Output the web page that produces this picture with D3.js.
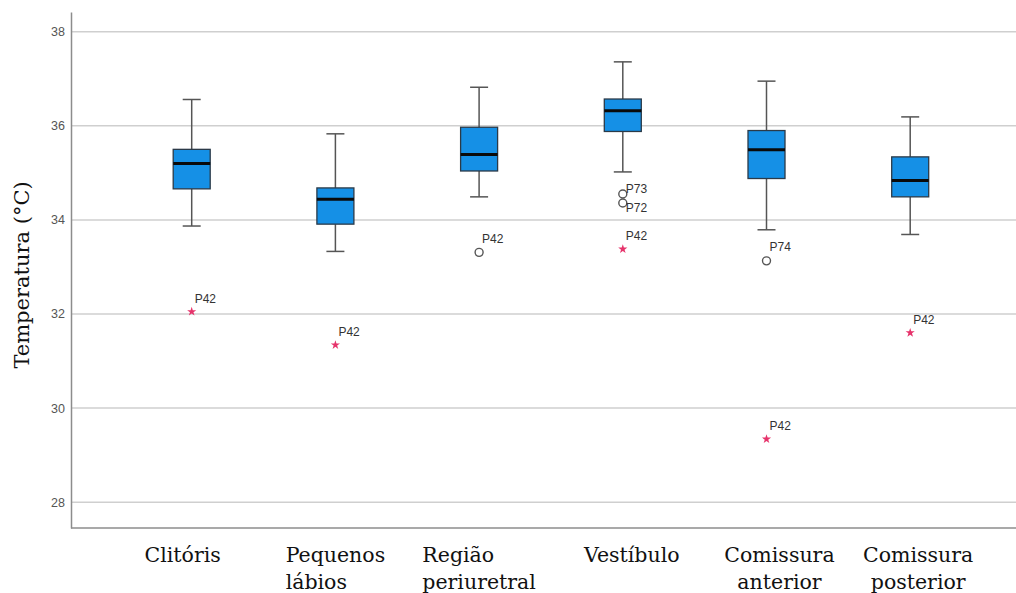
<!DOCTYPE html>
<html>
<head>
<meta charset="utf-8">
<script src="https://cdn.jsdelivr.net/npm/d3@7"></script>
<style>
  html, body { margin: 0; padding: 0; background: #fff; }
  svg { display: block; }
</style>
</head>
<body>
<svg id="chart" width="1016" height="593"></svg>
<script>
// ---- data ----
const categories = ["Clitóris", "Pequenos lábios", "Região periuretral", "Vestíbulo", "Comissura anterior", "Comissura posterior"];
const labelLines = [["Clitóris"], ["Pequenos", "lábios"], ["Região", "periuretral"], ["Vestíbulo"], ["Comissura", "anterior"], ["Comissura", "posterior"]];
const whiskerLow  = [33.87, 33.33, 34.49, 35.02, 33.79, 33.69];
const q1          = [34.66, 33.91, 35.04, 35.88, 34.88, 34.49];
const median      = [35.20, 34.44, 35.39, 36.32, 35.49, 34.84];
const q3          = [35.50, 34.68, 35.97, 36.57, 35.90, 35.34];
const whiskerHigh = [36.56, 35.83, 36.82, 37.36, 36.95, 36.19];
// outliers: category index, value, kind ("out" = circle, "ext" = star), id
const outCat   = [0, 1, 2, 3, 3, 3, 4, 4, 5];
const outValue = [32.05, 31.34, 33.31, 34.55, 34.36, 33.38, 33.13, 29.34, 31.60];
const outKind  = ["ext", "ext", "out", "out", "out", "ext", "out", "ext", "ext"];
const outId    = ["P42", "P42", "P42", "P73", "P72", "P42", "P74", "P42", "P42"];
const yTicks = [28, 30, 32, 34, 36, 38];
const yTitle = "Temperatura (°C)";

// ---- layout / style ----
const W = 1016, H = 593;
const plot = { left: 71, right: 1016, top: 12, bottom: 528 };
const labelStyle = { anchor: ["middle", "block", "block", "middle", "middle", "middle"], dx: [-9, 0, 0, 9, 13, 8] };
const outLabelDy = [-9, -9, -9, -1, 9, -9, -10, -9, -9];
const boxW = 37, capW = 18;

const svg = d3.select("#chart");

const x = d3.scalePoint().domain(categories).range([191.7, 910.2]);
const y = d3.scaleLinear().domain([27.45, 38.42]).range([plot.bottom, plot.top]);

// gridlines
svg.append("g").selectAll("line").data(yTicks).join("line")
  .attr("x1", plot.left).attr("x2", plot.right)
  .attr("y1", d => y(d)).attr("y2", d => y(d))
  .attr("stroke", "#cfcfcf").attr("stroke-width", 1.5);

// y axis
const yAxis = svg.append("g").attr("transform", `translate(${plot.left},0)`)
  .call(d3.axisLeft(y).tickValues(yTicks).tickSize(0).tickPadding(6).tickSizeOuter(0));
yAxis.select(".domain").attr("stroke", "#8c8c8c").attr("stroke-width", 1.5);
yAxis.selectAll("text").attr("font-family", "Liberation Sans, Arial, sans-serif")
  .attr("font-size", 12.5).attr("fill", "#555");

// x axis line
svg.append("line").attr("x1", plot.left).attr("x2", plot.right)
  .attr("y1", plot.bottom).attr("y2", plot.bottom)
  .attr("stroke", "#8c8c8c").attr("stroke-width", 1.5);

// boxes
const idx = d3.range(categories.length);
const g = svg.append("g");
// whiskers
g.selectAll(".wl").data(idx).join("line").attr("class", "wl")
  .attr("x1", i => x(categories[i])).attr("x2", i => x(categories[i]))
  .attr("y1", i => y(whiskerLow[i])).attr("y2", i => y(q1[i]))
  .attr("stroke", "#555").attr("stroke-width", 1.5);
g.selectAll(".wh").data(idx).join("line").attr("class", "wh")
  .attr("x1", i => x(categories[i])).attr("x2", i => x(categories[i]))
  .attr("y1", i => y(q3[i])).attr("y2", i => y(whiskerHigh[i]))
  .attr("stroke", "#555").attr("stroke-width", 1.5);
g.selectAll(".cl").data(idx).join("line").attr("class", "cl")
  .attr("x1", i => x(categories[i]) - capW / 2).attr("x2", i => x(categories[i]) + capW / 2)
  .attr("y1", i => y(whiskerLow[i])).attr("y2", i => y(whiskerLow[i]))
  .attr("stroke", "#555").attr("stroke-width", 1.5);
g.selectAll(".ch").data(idx).join("line").attr("class", "ch")
  .attr("x1", i => x(categories[i]) - capW / 2).attr("x2", i => x(categories[i]) + capW / 2)
  .attr("y1", i => y(whiskerHigh[i])).attr("y2", i => y(whiskerHigh[i]))
  .attr("stroke", "#555").attr("stroke-width", 1.5);
g.selectAll(".box").data(idx).join("rect").attr("class", "box")
  .attr("x", i => x(categories[i]) - boxW / 2).attr("width", boxW)
  .attr("y", i => y(q3[i])).attr("height", i => y(q1[i]) - y(q3[i]))
  .attr("fill", "#1590e6").attr("stroke", "#2b3a48").attr("stroke-width", 1.3);
g.selectAll(".med").data(idx).join("line").attr("class", "med")
  .attr("x1", i => x(categories[i]) - boxW / 2).attr("x2", i => x(categories[i]) + boxW / 2)
  .attr("y1", i => y(median[i])).attr("y2", i => y(median[i]))
  .attr("stroke", "#0a0a0a").attr("stroke-width", 3);

// outliers
const oIdx = d3.range(outValue.length);
const star = d3.symbol().type(d3.symbolStar).size(26);
g.selectAll(".oc").data(oIdx.filter(i => outKind[i] === "out")).join("circle").attr("class", "oc")
  .attr("cx", i => x(categories[outCat[i]])).attr("cy", i => y(outValue[i]))
  .attr("r", 4).attr("fill", "none").attr("stroke", "#555").attr("stroke-width", 1.4);
g.selectAll(".os").data(oIdx.filter(i => outKind[i] === "ext")).join("path").attr("class", "os")
  .attr("transform", i => `translate(${x(categories[outCat[i]])},${y(outValue[i])})`)
  .attr("d", star).attr("fill", "#e6336b");
g.selectAll(".ol").data(oIdx).join("text").attr("class", "ol")
  .attr("x", i => x(categories[outCat[i]]) + 3)
  .attr("y", i => y(outValue[i]) + outLabelDy[i])
  .attr("font-family", "Liberation Sans, Arial, sans-serif").attr("font-size", 12)
  .attr("fill", "#333").text(i => outId[i]);

// x labels
const xl = svg.append("g").selectAll("text").data(idx).join("text")
  .attr("font-family", "DejaVu Serif, serif").attr("font-size", 20.5).attr("fill", "#111");
xl.each(function(i) {
  const t = d3.select(this);
  labelLines[i].forEach((line, k) => {
    t.append("tspan").attr("y", 562 + k * 27).text(line);
  });
  const cx = x(categories[i]) + labelStyle.dx[i];
  if (labelStyle.anchor[i] === "middle") {
    t.attr("text-anchor", "middle");
    t.selectAll("tspan").attr("x", cx);
  } else {
    let wmax = 0;
    t.selectAll("tspan").each(function() { wmax = Math.max(wmax, this.getComputedTextLength()); });
    t.attr("text-anchor", "start");
    t.selectAll("tspan").attr("x", cx - wmax / 2);
  }
});

// y title
svg.append("text").attr("transform", `translate(29,${(y(38) + y(28)) / 2 + 8}) rotate(-90)`)
  .attr("text-anchor", "middle").attr("font-family", "DejaVu Serif, serif")
  .attr("font-size", 21).attr("fill", "#111").text(yTitle);
</script>
</body>
</html>
